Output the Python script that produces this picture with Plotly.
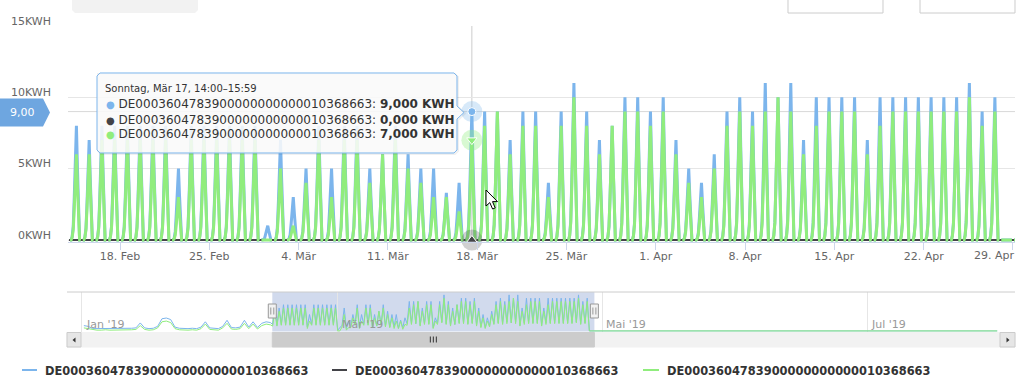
import pandas as pd
import plotly.graph_objects as go

W, H = 1024, 385

SERIES_NAME = "DE0003604783900000000000010368663"
BLUE, BLACK, GREEN = "#7cb5ec", "#434348", "#90ed7d"

# ---------------- data ----------------
# main window: daily peak value (KWH per 2-hour bucket), one entry per day from 14 Feb 2019
main_start = "2019-02-14"
blue_peaks = [8, 7, 8, 8, 8, 8, 8, 8, 5, 8,
              8, 8, 8, 8, 8, 1, 7, 3, 5, 8,
              5, 8, 8, 5, 6, 8, 6, 5, 5, 3.3,
              4, 9, 9, 9, 7, 9, 9, 4, 9, 11,
              9, 7, 8, 10, 10, 9, 10, 7, 5, 4,
              6, 9, 10, 9, 11, 10, 11, 7, 10, 10,
              10, 10, 7, 10, 10, 10, 10, 10, 10, 10,
              11, 9, 10, 0, 0]
green_peaks = [6, 6, 7, 7, 7, 7, 7, 7, 3, 7,
               7, 7, 7, 7, 7, 0, 5, 1, 4, 7,
               3, 7, 7, 4, 6, 7, 5, 4, 3, 3,
               2, 7, 8, 9, 6, 8, 8, 3, 8, 10,
               8, 6, 8, 9, 9, 8, 9, 6, 4, 3,
               5, 8, 9, 8, 9, 10, 9, 6, 8, 9,
               9, 9, 6, 8, 9, 9, 9, 9, 9, 9,
               10, 8, 9, 0, 0]
# intraday profile of the 2-hour buckets 00:00 ... 22:00 (None = no reading)
day_profile = [None, 0, 0, 0.03, 0.12, 0.38, 0.72, 1.0, 0.62, 0.25, 0, 0]

# navigator history before the main window (daily averages, KWH)
nav_hist_start = "2019-01-01"
nav_hist_blue = [0.7, 0.6, 0.3, 0.3, 0.3, 0.35, 0.3, 0.3, 0.35, 0.3,
                 0.3, 0.35, 0.4, 1.05, 0.4, 0.3, 0.35, 0.6, 1.6, 1.7,
                 1.5, 0.5, 0.35, 0.3, 0.3, 0.35, 0.3, 0.5, 1.2, 0.4,
                 0.35, 0.3, 0.6, 1.4, 0.45, 0.4, 0.5, 1.4, 0.5, 1.2,
                 0.45, 1.0, 1.2, 1.1]
nav_hist_green = [0.4, 0.3, 0.1, 0.1, 0.1, 0.15, 0.1, 0.1, 0.15, 0.1,
                  0.1, 0.15, 0.2, 0.7, 0.2, 0.1, 0.15, 0.4, 1.2, 1.3,
                  1.1, 0.3, 0.15, 0.1, 0.1, 0.15, 0.1, 0.3, 0.9, 0.2,
                  0.15, 0.1, 0.4, 1.0, 0.25, 0.2, 0.3, 1.0, 0.3, 0.9,
                  0.25, 0.7, 0.9, 0.8]
nav_end = "2019-07-31"

y_ticks = [0, 5, 10, 15]
y_tick_labels = ["0KWH", "5KWH", "10KWH", "15KWH"]
x_ticks = ["2019-02-18", "2019-02-25", "2019-03-04", "2019-03-11", "2019-03-18", "2019-03-25",
           "2019-04-01", "2019-04-08", "2019-04-15", "2019-04-22", "2019-04-29"]
x_tick_labels = ["18. Feb", "25. Feb", "4. Mär", "11. Mär", "18. Mär", "25. Mär",
                 "1. Apr", "8. Apr", "15. Apr", "22. Apr", "29. Apr"]
nav_ticks = ["2019-01-01", "2019-03-01", "2019-05-01", "2019-07-01"]
nav_tick_labels = ["Jan '19", "Mär '19", "Mai '19", "Jul '19"]

tooltip_time = "2019-03-17 14:00"
tooltip_header = "Sonntag, Mär 17, 14:00–15:59"

main_range = ["2019-02-13 22:10", "2019-04-29 03:50"]
nav_range = ["2018-12-28 20:10", "2019-08-04 02:24"]

# ---------------- build series ----------------
times = pd.date_range(main_start, periods=len(blue_peaks) * 12, freq="2h")


def expand(peaks):
    out = []
    for p in peaks:
        for f in day_profile:
            out.append(None if f is None else round(p * f, 3))
    return out


blue_vals = expand(blue_peaks)
green_vals = expand(green_peaks)
black_vals = [0.0] * len(times)

df = pd.DataFrame({"blue": pd.Series(blue_vals, dtype=float).values,
                   "green": pd.Series(green_vals, dtype=float).values,
                   "black": black_vals}, index=times)
nav_main = df.resample("12h").mean()
hist_idx = pd.date_range(nav_hist_start, periods=len(nav_hist_blue), freq="D") + pd.Timedelta(hours=12)
nav_x = list(hist_idx) + list(nav_main.index) + [pd.Timestamp(nav_end)]
nav_blue = list(nav_hist_blue) + list(nav_main["blue"].fillna(0)) + [0]
nav_green = list(nav_hist_green) + list(nav_main["green"].fillna(0)) + [0]
nav_max = max(nav_blue)

tt = pd.Timestamp(tooltip_time)
tt_vals = [df.loc[tt, "blue"], df.loc[tt, "black"], df.loc[tt, "green"]]


def px(x):
    return x / W


def py(y):
    return 1 - y / H


def path(points, close=True):
    s = "M " + " L ".join(f"{px(x):.5f},{py(y):.5f}" for x, y in points)
    return s + (" Z" if close else "")


def de(v, d):
    return f"{v:.{d}f}".replace(".", ",")


# ---------------- figure ----------------
fig = go.Figure()
for vals, col, wd in [(blue_vals, BLUE, 3), (black_vals, BLACK, 2), (green_vals, GREEN, 3)]:
    fig.add_trace(go.Scatter(x=times, y=vals, mode="lines", line=dict(color=col, width=wd),
                             connectgaps=False, hoverinfo="skip", name=SERIES_NAME,
                             xaxis="x", yaxis="y"))

# hover markers at the tooltip point
marker_specs = [(tt_vals[0], BLUE, "circle", "rgba(124,181,236,0.3)", 8),
                (tt_vals[1], BLACK, "triangle-up", "rgba(67,67,72,0.25)", 9),
                (tt_vals[2], GREEN, "triangle-down", "rgba(144,237,125,0.35)", 9)]
for v, col, sym, halo, sz in marker_specs:
    fig.add_trace(go.Scatter(x=[tt], y=[v], mode="markers", cliponaxis=False,
                             marker=dict(size=21, color=halo, line=dict(width=0)),
                             hoverinfo="skip", xaxis="x", yaxis="y"))
    fig.add_trace(go.Scatter(x=[tt], y=[v], mode="markers", cliponaxis=False,
                             marker=dict(size=sz, color=col, symbol=sym, line=dict(color="white", width=1)),
                             hoverinfo="skip", xaxis="x", yaxis="y"))

# navigator series
fig.add_trace(go.Scatter(x=nav_x, y=nav_blue, mode="lines", line=dict(color=BLUE, width=1),
                         hoverinfo="skip", xaxis="x2", yaxis="y2"))
fig.add_trace(go.Scatter(x=nav_x, y=nav_green, mode="lines", line=dict(color=GREEN, width=1),
                         hoverinfo="skip", xaxis="x2", yaxis="y2"))

AX_FONT = dict(family="DejaVu Sans", size=11, color="#666666")
fig.update_layout(
    width=W, height=H, margin=dict(l=0, r=0, t=0, b=0),
    paper_bgcolor="white", plot_bgcolor="white", showlegend=False,
    xaxis=dict(domain=[px(68), px(1015)], range=main_range, type="date",
               tickvals=x_ticks, ticktext=x_tick_labels[:-1] + [""],
               ticks="outside", ticklen=7, tickcolor="#ccd6eb", showline=True, linecolor="#ccd6eb",
               ticklabelstandoff=-3,
               showgrid=False, zeroline=False, tickfont=AX_FONT, fixedrange=True),
    yaxis=dict(domain=[py(242.1), py(26)], range=[-0.147, 15], tickvals=y_ticks,
               showticklabels=False, showgrid=True, gridcolor="#e6e6e6", zeroline=False,
               fixedrange=True),
    xaxis2=dict(domain=[px(68), px(1015)], range=nav_range, type="date", anchor="y2",
                tickvals=nav_ticks, showticklabels=False, showgrid=True, gridcolor="#e6e6e6",
                zeroline=False, showline=False, ticks="", fixedrange=True),
    yaxis2=dict(domain=[py(332), py(292)], anchor="x2", range=[-0.03 * nav_max, 1.08 * nav_max],
                showgrid=False, showticklabels=False, zeroline=False, fixedrange=True),
)

shapes = []
# crosshairs
shapes.append(dict(type="line", xref="x", yref="paper", x0=tt, x1=tt, y0=py(240), y1=py(26),
                   line=dict(color="#cccccc", width=1), layer="below"))
shapes.append(dict(type="line", xref="paper", yref="y", x0=px(68), x1=px(1015), y0=tt_vals[0], y1=tt_vals[0],
                   line=dict(color="#d8d8d8", width=1), layer="below"))

# top UI remnants
shapes.append(dict(type="path", xref="paper", yref="paper",
                   path=path([(72, 0), (198, 0), (198, 10), (195, 13), (75, 13), (72, 10)]),
                   fillcolor="#f2f2f2", line=dict(width=0)))
for x0, x1 in [(788, 883), (920, 1015)]:
    shapes.append(dict(type="path", xref="paper", yref="paper",
                       path=path([(x0, 0), (x0, 13), (x1, 13), (x1, 0)], close=False),
                       line=dict(color="#cccccc", width=1)))

# navigator: outline, mask, handles
shapes.append(dict(type="line", xref="paper", yref="paper", x0=px(67), x1=px(1015), y0=py(292), y1=py(292),
                   line=dict(color="#cccccc", width=1)))
shapes.append(dict(type="rect", xref="x2", yref="paper", x0=main_range[0], x1=main_range[1],
                   y0=py(331.5), y1=py(292), fillcolor="rgba(102,133,194,0.3)", line=dict(width=0),
                   layer="below"))
# scrollbar
shapes.append(dict(type="rect", xref="paper", yref="paper", x0=px(67), x1=px(1015), y0=py(347), y1=py(332.5),
                   fillcolor="#f2f2f2", line=dict(color="#f2f2f2", width=1)))
shapes.append(dict(type="rect", xref="x2", yref="paper", x0=main_range[0], x1=main_range[1],
                   y0=py(347), y1=py(332.5), fillcolor="#cccccc", line=dict(color="#cccccc", width=1)))
for bx0, bx1 in [(67, 81), (1000, 1015)]:
    shapes.append(dict(type="rect", xref="paper", yref="paper", x0=px(bx0), x1=px(bx1), y0=py(347), y1=py(332.5),
                       fillcolor="#e6e6e6", line=dict(color="#cccccc", width=1)))
shapes.append(dict(type="path", xref="paper", yref="paper",
                   path=path([(72.5, 340), (75.5, 337.5), (75.5, 342.5)]), fillcolor="#333333", line=dict(width=0)))
shapes.append(dict(type="path", xref="paper", yref="paper",
                   path=path([(1009.5, 340), (1006.5, 337.5), (1006.5, 342.5)]), fillcolor="#333333", line=dict(width=0)))
mid = pd.Timestamp(main_range[0]) + (pd.Timestamp(main_range[1]) - pd.Timestamp(main_range[0])) / 2
for dx in (-3, 0, 3):
    shapes.append(dict(type="line", xref="x2", yref="paper", xsizemode="pixel", xanchor=mid,
                       x0=dx, x1=dx, y0=py(342.5), y1=py(336.5), line=dict(color="#333333", width=1)))
for anchor in main_range:
    shapes.append(dict(type="rect", xref="x2", yref="paper", xsizemode="pixel", xanchor=anchor,
                       x0=-4, x1=4, y0=py(318), y1=py(304), fillcolor="#f2f2f2",
                       line=dict(color="#999999", width=1)))
    for dx in (-1.5, 1.5):
        shapes.append(dict(type="line", xref="x2", yref="paper", xsizemode="pixel", xanchor=anchor,
                           x0=dx, x1=dx, y0=py(314.5), y1=py(307.5), line=dict(color="#999999", width=1)))

# tooltip box
r = 3
tip = [(97 + r, 73), (457 - r, 73), (457, 73 + r), (457, 106), (464, 112.5), (457, 119),
       (457, 153 - r), (457 - r, 153), (97 + r, 153), (97, 153 - r), (97, 73 + r)]
shapes.append(dict(type="path", xref="paper", yref="paper", path=path([(98, 74)] + [(x + 1, y + 1) for x, y in tip]),
                   fillcolor="rgba(0,0,0,0)", line=dict(color="rgba(0,0,0,0.06)", width=2)))
shapes.append(dict(type="path", xref="paper", yref="paper", path=path([(97, 73 + r)] + tip),
                   fillcolor="rgba(249,249,249,0.88)", line=dict(color=BLUE, width=1)))

# y-axis crosshair flag
shapes.append(dict(type="path", xref="paper", yref="paper",
                   path=path([(0, 98.5), (43, 98.5), (50, 112.5), (43, 126.5), (0, 126.5)]),
                   fillcolor="#6ea6e0", line=dict(width=0)))

# mouse cursor
shapes.append(dict(type="path", xref="paper", yref="paper",
                   path=path([(486, 190), (486, 206), (489.8, 202.6), (492.6, 209), (495.2, 207.9),
                              (492.5, 201.6), (497.5, 201.6)]),
                   fillcolor="white", line=dict(color="black", width=1)))

# legend symbols
legend_lines = [(22, 37), (332, 347), (643, 659)]
legend_text_x = [43, 353, 665]
for (x0, x1), col in zip(legend_lines, [BLUE, BLACK, GREEN]):
    shapes.append(dict(type="line", xref="paper", yref="paper", x0=px(x0), x1=px(x1), y0=py(370), y1=py(370),
                       line=dict(color=col, width=2)))

fig.update_layout(shapes=shapes)

ann = []
for v, lab in zip(y_ticks, y_tick_labels):
    ann.append(dict(xref="paper", yref="y", x=px(53), y=v, yshift=5, text=lab, showarrow=False,
                    xanchor="right", yanchor="middle", font=AX_FONT))
ann.append(dict(xref="paper", yref="paper", x=px(1016), y=py(255), text=x_tick_labels[-1], showarrow=False,
                xanchor="right", yanchor="middle", font=AX_FONT))
for d, lab in zip(nav_ticks, nav_tick_labels):
    ann.append(dict(xref="x2", yref="paper", x=d, y=py(324.5), xshift=2, text=lab, showarrow=False,
                    xanchor="left", yanchor="middle", font=dict(family="DejaVu Sans", size=11, color="#999999")))

# tooltip text
ann.append(dict(xref="paper", yref="paper", x=px(103), y=py(89), text=tooltip_header, showarrow=False,
                xanchor="left", yanchor="middle", font=dict(family="DejaVu Sans", size=10, color="#333333")))
for i, (v, col) in enumerate(zip(tt_vals, [BLUE, BLACK, GREEN])):
    txt = (f'<span style="color:{col};font-size:10px">●</span> {SERIES_NAME}: '
           f'<b>{de(v, 3)} KWH</b>')
    ann.append(dict(xref="paper", yref="paper", x=px(104), y=py(104.5 + 15 * i), text=txt, showarrow=False,
                    xanchor="left", yanchor="middle", font=dict(family="DejaVu Sans", size=12, color="#333333")))

# y flag text
ann.append(dict(xref="paper", yref="paper", x=px(22), y=py(112.5), text=de(tt_vals[0], 2), showarrow=False,
                xanchor="center", yanchor="middle", font=dict(family="DejaVu Sans", size=11, color="white")))

# legend text
for x0 in legend_text_x:
    ann.append(dict(xref="paper", yref="paper", x=px(x0), y=py(370), text=f"<b>{SERIES_NAME}</b>", showarrow=False,
                    xanchor="left", yanchor="middle",
                    font=dict(family="DejaVu Sans Condensed, Liberation Sans Narrow, DejaVu Sans", size=12.7,
                              color="#333333")))

fig.update_layout(annotations=ann)
fig.write_html("out.html", config={"displayModeBar": False},
               post_script="document.body.style.margin='0';document.body.style.overflow='hidden';")
